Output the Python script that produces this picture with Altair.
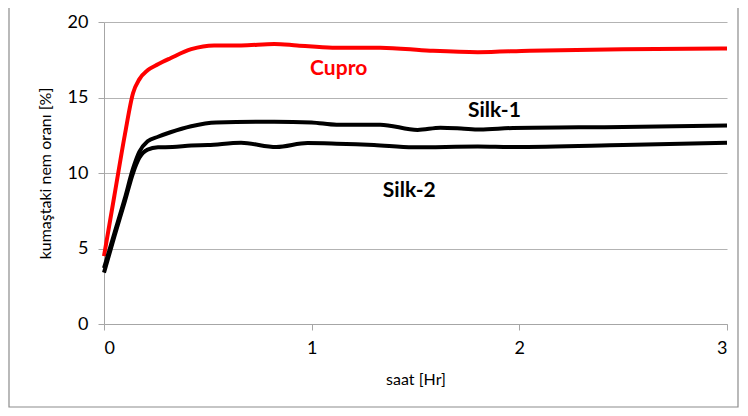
import altair as alt
import pandas as pd

series_names = ["Cupro", "Silk-1", "Silk-2"]

cupro_t = [0, 0.05, 0.10, 0.14, 0.17, 0.21, 0.26, 0.32, 0.42, 0.53, 0.66, 0.82, 0.93, 1.10, 1.33, 1.57, 1.80, 2.05, 2.50, 3.00]
cupro_v = [4.5, 8.5, 12.5, 15.3, 16.2, 16.8, 17.2, 17.6, 18.2, 18.45, 18.45, 18.55, 18.45, 18.3, 18.3, 18.1, 18.0, 18.1, 18.2, 18.25]

silk1_t = [0, 0.05, 0.10, 0.14, 0.17, 0.21, 0.26, 0.32, 0.42, 0.54, 0.82, 1.00, 1.12, 1.33, 1.51, 1.62, 1.72, 1.81, 1.97, 2.50, 3.00]
silk1_v = [3.7, 6.0, 8.3, 10.3, 11.4, 12.1, 12.4, 12.7, 13.1, 13.35, 13.4, 13.35, 13.2, 13.2, 12.85, 13.0, 12.95, 12.88, 12.98, 13.05, 13.15]

silk2_t = [0, 0.05, 0.10, 0.14, 0.17, 0.21, 0.26, 0.33, 0.42, 0.50, 0.66, 0.83, 0.98, 1.12, 1.30, 1.49, 1.80, 1.97, 2.50, 3.00]
silk2_v = [3.4, 5.8, 8.1, 10.0, 11.0, 11.55, 11.7, 11.72, 11.82, 11.85, 12.0, 11.72, 11.98, 11.94, 11.85, 11.7, 11.75, 11.72, 11.85, 12.0]

label_t = [1.13, 1.88, 1.47]
label_v = [16.9, 14.1, 8.8]

x_ticks = [0, 1, 2, 3]
y_ticks = [0, 5, 10, 15, 20]

rows = []
for name, ts, vs in zip(series_names, [cupro_t, silk1_t, silk2_t], [cupro_v, silk1_v, silk2_v]):
    for t, v in zip(ts, vs):
        rows.append({"series": name, "t": t, "v": v})
df = pd.DataFrame(rows)
labels_df = pd.DataFrame({"series": series_names, "t": label_t, "v": label_v})

color = alt.Color(
    "series:N",
    scale=alt.Scale(domain=series_names, range=["#ff0000", "#000000", "#000000"]),
    legend=None,
)
x = alt.X(
    "t:Q",
    scale=alt.Scale(domain=[0, 3], nice=False),
    axis=alt.Axis(values=x_ticks, title="saat [Hr]", grid=False, format="d",
                  labelPadding=9, titlePadding=14),
)
y = alt.Y(
    "v:Q",
    scale=alt.Scale(domain=[0, 20], nice=False),
    axis=alt.Axis(values=y_ticks, title="kumaştaki nem oranı [%]", grid=True, format="d",
                  labelPadding=10, titlePadding=14),
)

lines = alt.Chart(df).mark_line(strokeWidth=4, interpolate="monotone").encode(
    x=x, y=y, color=color, detail="series:N", order="t:Q"
)
texts = alt.Chart(labels_df).mark_text(
    font="Lato", fontSize=21, fontWeight="bold"
).encode(x="t:Q", y="v:Q", text="series:N", color=color)

frame = alt.Chart(pd.DataFrame({"k": [0]})).mark_rect(
    fill="transparent", stroke="#8c8c8c", strokeWidth=1.2
).encode(
    x=alt.value(-95), x2=alt.value(634), y=alt.value(-40), y2=alt.value(385)
)

chart = alt.layer(frame, lines, texts).properties(
    width=623, height=302,
    autosize=alt.AutoSizeParams(type="none"),
    padding={"left": 96, "top": 14, "right": 13, "bottom": 84},
).configure_view(stroke=None).configure_axis(
    domainColor="#a6a6a6", tickColor="#a6a6a6", gridColor="#b3b3b3",
    tickSize=6, labelFont="Lato", labelFontSize=18, labelColor="#000000",
    titleFont="Lato", titleFontSize=16, titleFontWeight="normal", titleColor="#000000",
)

chart.save("out.html", embed_options={"renderer": "svg", "actions": False})
